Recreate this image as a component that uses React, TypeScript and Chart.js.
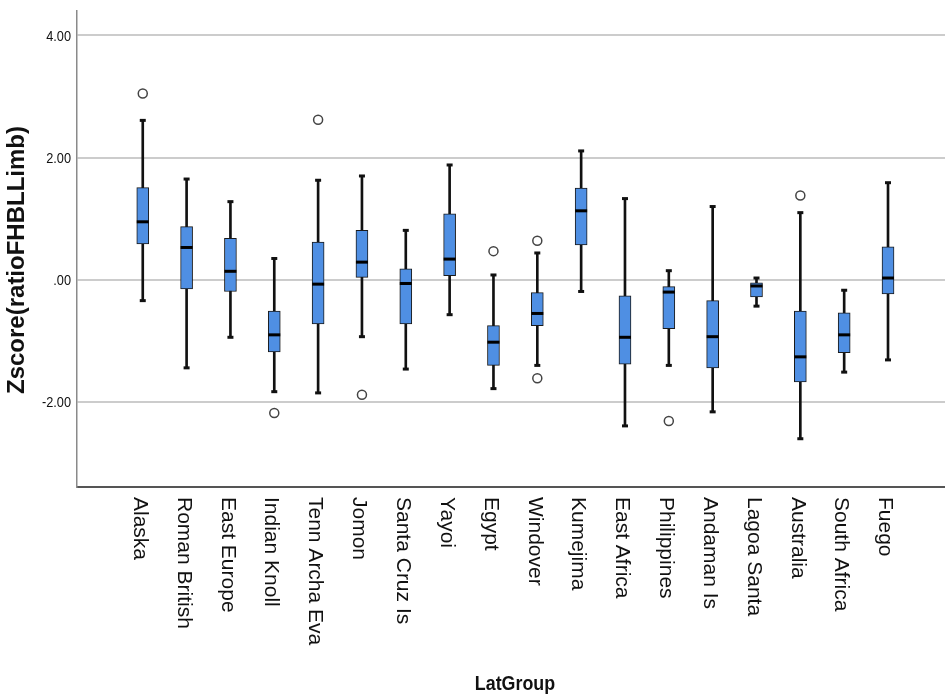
import React, { useEffect, useRef } from "react";
import { Chart, registerables } from "chart.js";

Chart.register(...registerables);

const categories = [
  "Alaska", "Roman British", "East Europe", "Indian Knoll", "Tenn Archa Eva", "Jomon",
  "Santa Cruz Is", "Yayoi", "Egypt", "Windover", "Kumejima", "East Africa",
  "Philippines", "Andaman Is", "Lagoa Santa", "Australia", "South Africa", "Fuego",
];
const whiskerLow = [-0.34, -1.44, -0.94, -1.83, -1.85, -0.93, -1.46, -0.57, -1.78, -1.40, -0.19, -2.39, -1.40, -2.16, -0.43, -2.60, -1.51, -1.31];
const q1 = [0.59, -0.15, -0.19, -1.18, -0.72, 0.04, -0.72, 0.07, -1.40, -0.75, 0.57, -1.38, -0.80, -1.44, -0.28, -1.67, -1.19, -0.23];
const median = [0.95, 0.53, 0.14, -0.90, -0.07, 0.29, -0.06, 0.34, -1.02, -0.55, 1.13, -0.94, -0.20, -0.93, -0.10, -1.26, -0.90, 0.03];
const q3 = [1.51, 0.87, 0.68, -0.51, 0.62, 0.81, 0.18, 1.08, -0.75, -0.21, 1.50, -0.26, -0.11, -0.34, -0.05, -0.51, -0.54, 0.54];
const whiskerHigh = [2.61, 1.65, 1.28, 0.35, 1.63, 1.70, 0.81, 1.88, 0.08, 0.44, 2.11, 1.33, 0.15, 1.20, 0.03, 1.10, -0.17, 1.59];
const outlierGroups = [0, 3, 4, 5, 8, 9, 9, 12, 15];
const outlierValues = [3.05, -2.18, 2.62, -1.88, 0.47, 0.64, -1.61, -2.31, 1.38];
const yTickValues = [-2, 0, 2, 4];
const yTickLabels = ["-2.00", ".00", "2.00", "4.00"];
const yTitle = "Zscore(ratioFHBLLimb)";
const xTitle = "LatGroup";

const textPlugin = {
  id: "textPlugin",
  afterDraw(chart: any) {
    const ctx = chart.ctx;
    const xs = chart.scales.x;
    const ys = chart.scales.y;
    ctx.save();
    ctx.fillStyle = "#111";
    ctx.font = "15px 'Liberation Sans', Arial, sans-serif";
    yTickValues.forEach((v, i) => {
      const y = ys.getPixelForValue(v);
      ctx.save();
      ctx.translate(71, y + 1);
      ctx.scale(0.85, 1);
      ctx.textAlign = "right";
      ctx.textBaseline = "middle";
      ctx.fillText(yTickLabels[i], 0, 0);
      ctx.restore();
    });
    ctx.font = "21px 'Liberation Sans', Arial, sans-serif";
    categories.forEach((c, i) => {
      const x = xs.getPixelForValue(i);
      ctx.save();
      ctx.translate(x - 3, 497);
      ctx.rotate(Math.PI / 2);
      ctx.textAlign = "left";
      ctx.textBaseline = "middle";
      ctx.fillText(c, 0, 0);
      ctx.restore();
    });
    ctx.font = "bold 24px 'Liberation Sans', Arial, sans-serif";
    ctx.save();
    ctx.translate(17, 260);
    ctx.rotate(-Math.PI / 2);
    ctx.textAlign = "center";
    ctx.textBaseline = "middle";
    ctx.fillText(yTitle, 0, 0);
    ctx.restore();
    ctx.font = "bold 21px 'Liberation Sans', Arial, sans-serif";
    ctx.save();
    ctx.translate(515, 684);
    ctx.scale(0.85, 1);
    ctx.textAlign = "center";
    ctx.textBaseline = "middle";
    ctx.fillText(xTitle, 0, 0);
    ctx.restore();
    ctx.restore();
  },
};

export default function App() {
  const ref = useRef<HTMLCanvasElement | null>(null);
  useEffect(() => {
    if (!ref.current) return;
    const idx = categories.map((_, i) => i);
    const chart = new Chart(ref.current, {
      type: "bar",
      data: {
        datasets: [
          {
            type: "bar",
            data: idx.map((i) => ({ x: i, y: [whiskerLow[i], whiskerHigh[i]] })) as any,
            backgroundColor: "#111",
            borderWidth: 0,
            barThickness: 2,
            grouped: false,
            order: 4,
          },
          {
            type: "bar",
            data: idx.map((i) => ({ x: i, y: [q1[i], q3[i]] })) as any,
            backgroundColor: "#4f8fe3",
            borderColor: "#1a1a1a",
            borderWidth: 1,
            borderSkipped: false,
            barThickness: 12,
            grouped: false,
            order: 3,
          },
          {
            type: "scatter",
            data: idx.flatMap((i) => [
              { x: i, y: whiskerLow[i] },
              { x: i, y: whiskerHigh[i] },
            ]),
            pointStyle: "line",
            radius: 3,
            borderWidth: 3,
            borderColor: "#111",
            order: 2,
          },
          {
            type: "scatter",
            data: idx.map((i) => ({ x: i, y: median[i] })),
            pointStyle: "line",
            radius: 6,
            borderWidth: 3,
            borderColor: "#000",
            order: 1,
          },
          {
            type: "scatter",
            data: outlierGroups.map((g, k) => ({ x: g, y: outlierValues[k] })),
            pointStyle: "circle",
            radius: 4.5,
            backgroundColor: "#fff",
            borderColor: "#444",
            borderWidth: 1.5,
            order: 0,
          },
        ] as any,
      },
      options: {
        animation: false,
        responsive: false,
        devicePixelRatio: 1,
        events: [],
        layout: { autoPadding: false, padding: { top: 11, right: 0, left: 0, bottom: 0 } },
        plugins: { legend: { display: false }, tooltip: { enabled: false } },
        scales: {
          x: {
            type: "linear",
            min: -1.5,
            max: 18.3,
            offset: false,
            grid: { display: false, offset: false },
            ticks: { display: false },
            border: { display: true, color: "#555", width: 2 },
            afterFit: (s: any) => {
              s.height = 213;
            },
          },
          y: {
            type: "linear",
            min: -3.39,
            max: 4.4,
            afterBuildTicks: (s: any) => {
              s.ticks = yTickValues.map((v) => ({ value: v }));
            },
            grid: { color: "#cccccc", lineWidth: 2, drawTicks: false },
            ticks: { display: false },
            border: { display: true, color: "#8a8a8a", width: 1.5 },
            afterFit: (s: any) => {
              s.width = 77;
            },
          },
        },
      } as any,
      plugins: [textPlugin],
    });
    return () => chart.destroy();
  }, []);
  return (
    <canvas
      ref={ref}
      width={945}
      height={700}
      style={{ position: "fixed", left: 0, top: 0, width: 945, height: 700, background: "#fff" }}
    />
  );
}
